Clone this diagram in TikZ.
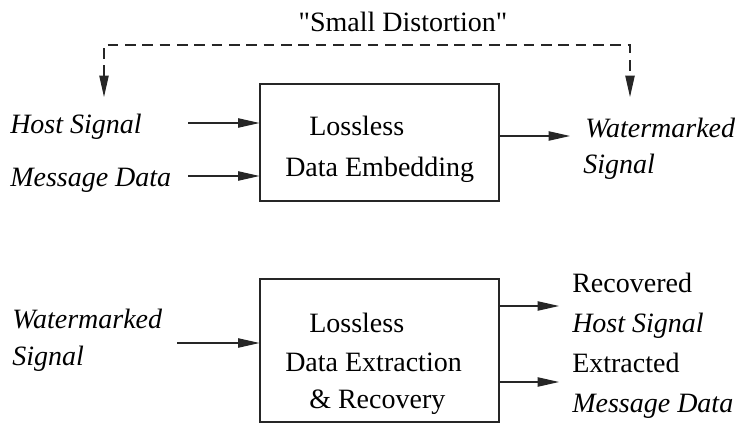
\documentclass[tikz,border=0pt]{standalone}
\usepackage{fontspec}
\setmainfont{Liberation Serif}[Ligatures=TeXOff]
\usetikzlibrary{arrows.meta}
\begin{document}
\begin{tikzpicture}[x=0.75pt,y=-0.75pt,
  txt/.style={inner sep=0pt, font=\fontsize{21}{25}\selectfont},
  lbl/.style={txt, anchor=base west},
  ilbl/.style={lbl, font=\fontsize{21}{25}\selectfont\itshape},
  blockbox/.style={draw=black!85, line width=0.8pt, minimum width=179.25pt, inner sep=0pt},
  tip/.tip={Triangle[length=16pt,width=7pt]},
  flow/.style={draw=black!85, line width=0.8pt, -tip},
  distpath/.style={draw=black!85, line width=0.8pt, dash pattern=on 8pt off 5pt, tip-tip},
]
\useasboundingbox (0,0) rectangle (741,427);

% ---------- embedding stage ----------
\node[blockbox, minimum height=87.75pt] (emb) at (379.5,142.5) {};
\node[lbl] (emb1) at (309,136) {Lossless};
\node[lbl] (emb2) at (285,177) {Data Embedding};

\node[ilbl] (hs) at (10,134) {Host Signal};
\node[ilbl] (md) at (10,187) {Message Data};
\node[ilbl] (wm1) at (585,138) {Watermarked};
\node[ilbl] (wm2) at (583,174) {Signal};

\coordinate (hs-tail) at (188,123);
\coordinate (md-tail) at (188,176);
\coordinate (wm-head) at (570,136);
\draw[flow] (hs-tail) -- (emb.west |- hs-tail);
\draw[flow] (md-tail) -- (emb.west |- md-tail);
\draw[flow] (emb.east |- wm-head) -- (wm-head);

% distortion between host and watermarked signal
\coordinate (dl) at (104,97);
\coordinate (dr) at (630,97);
\coordinate (dtop) at (367,45);
\draw[distpath] (dl) |- (dtop) -| (dr);
\node[txt, anchor=base] (dist) at (403,32) {"Small Distortion"};

% ---------- extraction stage ----------
\node[blockbox, minimum height=107.25pt] (ext) at (379.5,350.5) {};
\node[lbl] (ext1) at (309,332) {Lossless};
\node[lbl] (ext2) at (285,371) {Data Extraction};
\node[lbl] (ext3) at (309,408) {\& Recovery};

\node[ilbl] (in1) at (12,328) {Watermarked};
\node[ilbl] (in2) at (12,365) {Signal};

\node[lbl] (rh1) at (572,292) {Recovered};
\node[ilbl] (rh2) at (572,332) {Host Signal};
\node[lbl] (em1) at (572,372) {Extracted};
\node[ilbl] (em2) at (572,412) {Message Data};

\coordinate (in-tail) at (177,343);
\coordinate (rh-head) at (559,306);
\coordinate (em-head) at (559,382);
\draw[flow] (in-tail) -- (ext.west |- in-tail);
\draw[flow] (ext.east |- rh-head) -- (rh-head);
\draw[flow] (ext.east |- em-head) -- (em-head);
\end{tikzpicture}
\end{document}
